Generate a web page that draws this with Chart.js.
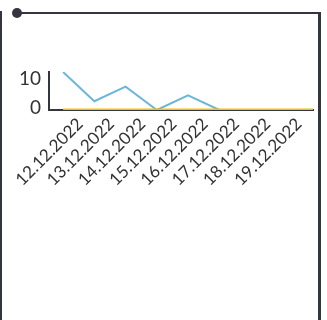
<!DOCTYPE html>
<html lang="en">
<head>
    <meta charset="UTF-8">
    <title>Chart</title>
    <script src="https://cdn.jsdelivr.net/npm/chart.js"></script>
    <style>
        body { margin: 0; background: #fff; }
        #box { position: relative; width: 327px; height: 320px; overflow: hidden; }
        .frame-left { position: absolute; left: 0; top: 11px; width: 2px; height: 309px; background: #35353f; }
        .frame-top { position: absolute; left: 17px; top: 12px; width: 303px; height: 2px; background: #35353f; }
        .frame-right { position: absolute; left: 318px; top: 12px; width: 3px; height: 308px; background: #35353f; }
        .dot { position: absolute; left: 12px; top: 8px; width: 10px; height: 10px; border-radius: 50%; background: #35353f; }
        #myChart { position: absolute; left: 0; top: 0; }
    </style>
</head>
<body>
<div id="box">
    <div class="frame-left"></div>
    <div class="frame-top"></div>
    <div class="frame-right"></div>
    <div class="dot"></div>
    <canvas id="myChart" width="327" height="320"></canvas>
</div>
<script>
    // valores
    const labels = ['12.12.2022', '13.12.2022', '14.12.2022', '15.12.2022', '16.12.2022',
                    '17.12.2022', '18.12.2022', '19.12.2022'];
    const serieAzul = [13, 3, 8, 0, 5, 0, 0, 0, 0];
    const serieAmarela = [0, 0, 0, 0, 0, 0, 0, 0, 0];
    const yTicks = [0, 10];

    const escuro = '#35353f';
    const pontos = arr => arr.map((v, i) => ({ x: i, y: v }));

    const ctx = document.getElementById('myChart').getContext('2d');
    const myChart = new Chart(ctx, {
        type: 'line',
        data: {
            datasets: [{
                data: pontos(serieAmarela),
                borderColor: '#f2c200',
                borderWidth: 3,
                pointRadius: 0,
                order: 0
            }, {
                data: pontos(serieAzul),
                borderColor: '#6cb6dc',
                borderWidth: 2,
                pointRadius: 0,
                order: 1
            }]
        },
        options: {
            responsive: false,
            animation: false,
            devicePixelRatio: 1,
            layout: { padding: { top: 72, right: 14, left: 11, bottom: 130 } },
            plugins: { legend: { display: false }, tooltip: { enabled: false } },
            scales: {
                x: {
                    type: 'linear',
                    min: -0.45,
                    max: serieAzul.length - 1,
                    afterBuildTicks: axis => { axis.ticks = labels.map((l, i) => ({ value: i })); },
                    // altura fixa para as datas inclinadas
                    afterFit: s => { s.height = 80; s.paddingLeft = 0; s.paddingRight = 0; },
                    grid: { display: false, drawTicks: false },
                    border: { color: escuro, width: 2 },
                    ticks: {
                        autoSkip: false,
                        minRotation: 45,
                        maxRotation: 45,
                        labelOffset: 17,
                        padding: 4,
                        color: '#333',
                        font: { family: 'Lato', size: 17 },
                        callback: v => labels[v]
                    }
                },
                y: {
                    min: 0,
                    max: Math.max(...serieAzul),
                    afterBuildTicks: axis => { axis.ticks = yTicks.map(v => ({ value: v })); },
                    grid: { display: false, drawTicks: false },
                    border: { color: escuro, width: 2 },
                    ticks: {
                        padding: 8,
                        labelOffset: -2,
                        color: '#333',
                        font: { family: 'Lato', size: 19 }
                    }
                }
            }
        }
    });
</script>
</body>
</html>
